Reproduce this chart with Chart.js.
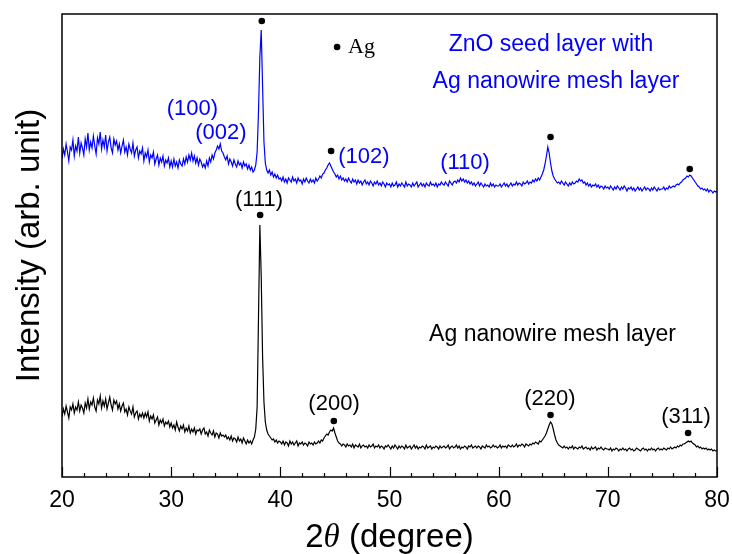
<!DOCTYPE html>
<html>
<head>
<meta charset="utf-8">
<script src="https://cdn.jsdelivr.net/npm/chart.js@4"></script>
<style>
  html, body { margin: 0; padding: 0; background: #fff; }
  #xrd { display: block; }
</style>
</head>
<body>
<canvas id="xrd" width="732" height="554"></canvas>
<script>
// 2theta grid, 20 -> 80 step 0.125 (481 points)
const twoTheta = [];
for (let i = 0; i <= 480; i++) twoTheta.push(20 + i * 0.125);

// Ag nanowire mesh layer (black), arb. units, one row = 2.5 degrees
const agMesh = [
  60,68,63,71,65,59,70,67,73,64,70,67,75,66,72,69,64,74,69,78,
  68,75,72,79,70,66,77,73,81,69,76,71,78,68,74,80,72,67,77,73,
  76,68,73,66,71,74,65,68,62,70,66,63,70,60,64,66,58,63,60,64,
  59,64,60,65,56,61,58,62,54,57,60,52,57,54,58,51,55,53,56,50,
  54,49,52,47,55,50,46,51,48,52,45,49,46,51,44,48,45,49,43,47,
  46,48,43,47,49,43,45,41,47,44,42,46,40,44,43,39,44,41,42,40,
  42,38,40,37,41,36,39,38,35,40,36,38,34,39,36,33,37,34,36,33,
  37,40,48,70,160,252,200,120,75,55,47,43,41,39,37,38,35,37,34,36,
  35,33,36,32,35,34,31,36,33,35,32,34,36,31,34,33,35,32,34,33,
  31,35,33,34,32,35,33,34,36,34,37,36,39,41,43,42,45,47,46,49,
  44,40,36,34,33,31,33,32,30,33,31,32,30,33,29,32,31,30,33,29,
  31,32,30,31,29,32,30,31,33,29,31,30,32,29,31,30,28,31,30,32,
  30,28,31,29,32,30,28,31,29,31,30,28,32,29,30,31,28,30,32,29,
  31,28,30,29,31,30,28,32,29,30,31,28,30,29,31,30,28,31,29,30,
  31,29,30,32,28,30,31,29,30,32,29,31,28,30,29,31,30,28,31,30,
  32,29,30,31,29,31,30,28,31,30,29,32,30,31,29,30,32,30,31,29,
  30,32,29,31,30,31,29,32,31,30,32,30,31,33,30,32,31,33,32,30,
  33,32,31,33,32,34,33,35,34,33,36,35,37,39,41,44,48,52,55,53,
  48,42,37,34,32,31,30,29,31,29,30,28,30,29,31,28,30,29,28,30,
  29,31,28,29,30,28,29,27,30,28,29,30,27,29,28,30,28,27,29,28,
  28,27,29,26,28,27,29,28,26,28,27,29,27,28,26,28,29,27,28,26,
  27,29,28,27,26,28,29,27,28,26,28,27,29,27,28,26,28,29,27,28,
  27,29,28,27,29,28,30,28,29,30,29,31,30,32,31,33,33,34,35,36,
  35,36,34,33,32,30,31,29,30,28,29,28,29,27,28,27,28,26,27,26,
  26
];

// ZnO seed layer with Ag nanowire mesh layer (blue)
const znoAg = [
  318,328,322,333,325,316,330,327,337,321,331,326,340,324,334,329,322,338,330,344,
  327,335,329,341,331,323,339,333,345,328,337,330,342,326,335,340,329,324,338,332,
  336,327,333,324,331,337,325,330,322,333,328,324,334,321,327,330,319,326,323,329,
  316,324,320,327,315,322,319,325,313,318,322,312,319,315,321,311,317,314,319,310,
  316,310,318,311,315,309,317,313,311,318,313,320,315,322,317,324,316,321,314,319,
  312,318,315,310,313,309,316,311,319,315,322,318,324,327,331,328,333,326,324,320,
  317,321,313,318,315,311,317,313,310,316,312,314,309,315,311,313,308,312,307,310,
  305,307,312,325,365,420,447,390,335,314,307,304,307,302,305,300,303,299,302,298,
  299,296,300,295,298,294,299,297,295,300,296,298,294,299,296,297,293,298,295,299,
  296,294,298,295,297,294,299,296,298,301,299,303,304,307,309,312,314,311,308,305,
  303,300,302,298,301,297,299,296,298,295,299,296,294,298,295,297,293,297,294,296,
  292,295,297,293,295,292,296,294,291,295,293,296,292,294,291,295,293,290,294,292,
  293,290,294,291,292,295,290,293,291,294,292,290,295,291,293,292,290,294,291,293,
  295,290,292,294,291,293,290,294,292,291,295,292,293,291,294,290,293,292,295,293,
  292,295,293,291,296,294,292,295,296,294,297,295,299,296,298,295,297,294,296,293,
  295,292,294,291,293,295,291,294,292,290,293,291,292,290,294,291,293,290,292,291,
  291,293,290,292,294,291,293,290,292,294,291,293,292,295,292,294,293,291,295,293,
  294,296,293,295,294,297,295,298,296,299,297,300,303,307,313,321,330,324,314,306,
  301,298,296,294,295,293,296,294,292,295,293,291,294,292,295,293,294,296,295,298,
  296,297,294,295,292,294,291,293,290,292,291,293,290,292,289,291,290,288,291,289,
  290,288,291,289,287,290,288,291,289,287,290,288,291,289,286,289,288,290,287,289,
  286,288,290,287,289,286,288,290,287,289,288,286,289,287,290,288,286,289,287,288,
  288,290,287,289,288,291,289,290,291,290,292,293,292,294,295,297,298,299,301,300,
  302,301,299,297,295,293,291,290,288,289,287,288,286,288,285,287,286,284,286,285,
  286
];

// Ag peak markers (filled dots)
const dotX = [38.15, 44.9, 64.75, 77.35, 38.3, 44.65, 64.75, 77.5, 45.2];
const dotY = [262, 56, 62, 44, 456, 326, 340, 308, 430];

// peak labels
const labelText = ['(100)', '(002)', '(102)', '(110)', '(111)', '(200)', '(220)', '(311)'];
const labelX = [31.95, 34.56, 47.66, 56.92, 38.05, 44.92, 64.70, 77.16];
const labelY = [368, 344, 320, 314, 277, 73, 78, 60];
const labelColor = ['#0000ff', '#0000ff', '#0000ff', '#0000ff', '#000', '#000', '#000', '#000'];

const xTicks = [20, 30, 40, 50, 60, 70, 80];

const SANS = '"Liberation Sans", Arial, Helvetica, sans-serif';
const SERIF = '"Liberation Serif", "Times New Roman", serif';

const pts = (ys) => twoTheta.map((x, i) => ({ x: x, y: ys[i] }));

// frame, inward ticks, labels and x title
const decor = {
  id: 'decor',
  afterDatasetsDraw(chart) {
    const ctx = chart.ctx;
    const a = chart.chartArea;
    const xs = chart.scales.x;
    const ys = chart.scales.y;
    ctx.save();
    ctx.strokeStyle = '#000';
    ctx.lineWidth = 1.5;
    ctx.strokeRect(a.left, a.top, a.right - a.left, a.bottom - a.top);
    ctx.lineWidth = 1.2;
    for (let v = 20; v <= 80; v += 2) {
      const px = Math.round(xs.getPixelForValue(v)) + 0.5;
      const len = v % 10 === 0 ? 10 : 4;
      ctx.beginPath();
      ctx.moveTo(px, a.bottom);
      ctx.lineTo(px, a.bottom - len);
      ctx.stroke();
    }

    ctx.textAlign = 'center';
    ctx.textBaseline = 'middle';
    ctx.font = '22px ' + SANS;
    labelText.forEach((t, i) => {
      ctx.fillStyle = labelColor[i];
      ctx.fillText(t, xs.getPixelForValue(labelX[i]), ys.getPixelForValue(labelY[i]));
    });

    ctx.font = '23px ' + SANS;
    ctx.fillStyle = '#0000ff';
    ctx.fillText('ZnO seed layer with', xs.getPixelForValue(64.79), ys.getPixelForValue(432));
    ctx.fillText('Ag nanowire mesh layer', xs.getPixelForValue(65.25), ys.getPixelForValue(395));
    ctx.fillStyle = '#000';
    ctx.fillText('Ag nanowire mesh layer', xs.getPixelForValue(64.93), ys.getPixelForValue(142));

    ctx.textAlign = 'left';
    ctx.font = '22px ' + SERIF;
    ctx.fillText('Ag', xs.getPixelForValue(46.2), ys.getPixelForValue(430));

    // x title: 2θ (degree)
    const parts = [
      ['2', '33px ' + SANS],
      ['\u03b8', 'italic 33px ' + SERIF],
      [' (degree)', '33px ' + SANS]
    ];
    let total = 0;
    parts.forEach(p => { ctx.font = p[1]; total += ctx.measureText(p[0]).width; });
    let cx = (a.left + a.right) / 2 - total / 2;
    ctx.textBaseline = 'alphabetic';
    parts.forEach(p => {
      ctx.font = p[1];
      ctx.fillText(p[0], cx, 547);
      cx += ctx.measureText(p[0]).width;
    });
    ctx.restore();
  }
};

new Chart(document.getElementById('xrd'), {
  type: 'scatter',
  data: {
    datasets: [
      {
        label: 'ZnO seed layer with Ag nanowire mesh layer',
        data: pts(znoAg),
        showLine: true,
        borderColor: '#0000ff',
        borderWidth: 1.2,
        pointRadius: 0,
        tension: 0
      },
      {
        label: 'Ag nanowire mesh layer',
        data: pts(agMesh),
        showLine: true,
        borderColor: '#000',
        borderWidth: 1.2,
        pointRadius: 0,
        tension: 0
      },
      {
        label: 'Ag',
        data: dotX.map((x, i) => ({ x: x, y: dotY[i] })),
        showLine: false,
        pointRadius: 3.3,
        pointBackgroundColor: '#000',
        pointBorderWidth: 0
      }
    ]
  },
  options: {
    responsive: false,
    animation: false,
    devicePixelRatio: 1,
    layout: { padding: { top: 14, right: 15, left: 0, bottom: 0 } },
    plugins: {
      legend: { display: false },
      tooltip: { enabled: false }
    },
    scales: {
      x: {
        type: 'linear',
        min: 20,
        max: 80,
        grid: { display: false, drawTicks: false },
        border: { display: false },
        afterBuildTicks: (scale) => { scale.ticks = xTicks.map(v => ({ value: v })); },
        afterFit: (scale) => {
          scale.height = 77;
          scale.paddingLeft = 0;
          scale.paddingRight = 0;
        },
        ticks: {
          padding: 10,
          maxRotation: 0,
          color: '#000',
          font: { family: SANS, size: 23 }
        }
      },
      y: {
        min: 0,
        max: 463,
        grid: { display: false, drawTicks: false },
        border: { display: false },
        ticks: { display: false },
        afterFit: (scale) => { scale.width = 62; },
        title: {
          display: true,
          text: 'Intensity (arb. unit)',
          color: '#000',
          padding: { top: 10, bottom: 0 },
          font: { family: SANS, size: 33 }
        }
      }
    }
  },
  plugins: [decor]
});
</script>
</body>
</html>
